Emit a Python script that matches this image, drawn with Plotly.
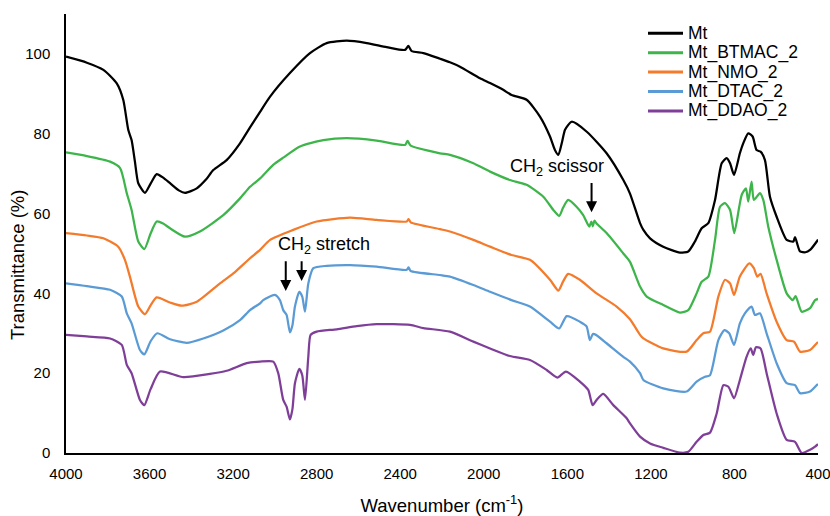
import plotly.graph_objects as go

# ---------------- data ----------------
mt_wn = [4000, 3900, 3821, 3757, 3726, 3702, 3686, 3670, 3654, 3622, 3595, 3566, 3535, 3502, 3460, 3430,
         3374, 3330, 3295, 3231, 3167, 3119, 3071, 3023, 2928, 2832, 2752, 2656, 2560, 2465, 2377, 2361,
         2345, 2289, 2210, 2162, 2114, 2018, 1970, 1907, 1867, 1795, 1731, 1683, 1660, 1643, 1625, 1611,
         1579, 1507, 1412, 1332, 1300, 1252, 1236, 1204, 1141, 1061, 1021, 989, 957, 925, 893, 861, 837,
         821, 802, 774, 758, 734, 713, 694, 675, 654, 630, 598, 550, 518, 510, 486, 460, 438, 406, 400]
mt_t = [99.3, 97.8, 96, 92.6, 88.5, 81, 78.4, 73, 67.6, 65.2, 67.5, 69.9, 69, 67.6, 65.8, 65.2,
        66.3, 68.5, 70.9, 73.4, 77.6, 81.6, 85.5, 89.3, 95.2, 100.2, 102.7, 103.3, 102.7, 101.7, 101, 102,
        100.7, 100.2, 98.8, 97.9, 96.8, 93.9, 92.7, 91, 89.7, 88.5, 84.3, 79.3, 76, 74.7, 78, 81,
        83, 80.5, 75.1, 68.4, 65, 57.6, 55.9, 53.8, 51.7, 50.2, 50.5, 53, 56.3, 57.6, 63.4, 72.6, 73.9,
        72.6, 69.7, 75.1, 77.6, 80.1, 79.3, 75.9, 75.5, 73.4, 64.2, 59.2, 53.4, 53, 54.1, 50.5, 50.3, 50.9, 53, 53.5]

btmac_wn = [4000, 3900, 3789, 3741, 3709, 3686, 3654, 3625, 3595, 3566, 3535, 3502, 3430, 3359, 3247, 3167,
            3119, 3071, 3008, 2960, 2880, 2768, 2656, 2513, 2377, 2365, 2350, 2210, 2162, 2050, 1970, 1875,
            1795, 1715, 1667, 1639, 1620, 1596, 1556, 1524, 1495, 1485, 1478, 1470, 1460, 1412, 1332, 1300,
            1252, 1220, 1141, 1061, 1021, 981, 957, 925, 893, 869, 845, 821, 801, 777, 765, 745, 734, 718,
            707, 678, 662, 638, 598, 550, 521, 507, 478, 438, 414, 400]
btmac_t = [75.3, 74.4, 73, 71.4, 65.1, 60.9, 53, 51.1, 55, 58, 57.5, 56.3, 54.2, 55.5, 59.6, 63.8,
           66.7, 68.8, 72.2, 74, 76.8, 78.4, 78.9, 78.3, 77.2, 78.2, 77, 75.1, 74.7, 72.6, 70.5, 68.4,
           67.2, 64.2, 60.9, 59.4, 61.5, 63.4, 61.7, 59.6, 56.7, 58, 56.8, 58.2, 57.5, 55.1, 50, 47.9,
           41.7, 39.2, 37.1, 35.2, 35.8, 40, 42.9, 44.2, 53.4, 61.7, 62.6, 60.9, 55.1, 61.7, 64.7, 66.3, 63, 68,
           63.4, 65.1, 63.4, 56.7, 48.4, 40, 38.3, 39.3, 35.4, 36.3, 38.3, 38.6]

nmo_wn = [4000, 3900, 3821, 3750, 3718, 3694, 3654, 3622, 3595, 3566, 3502, 3446, 3374, 3263, 3199, 3119,
          3071, 3023, 2912, 2800, 2640, 2513, 2369, 2360, 2350, 2210, 2162, 2050, 1970, 1867, 1779, 1683,
          1643, 1620, 1596, 1540, 1460, 1364, 1300, 1252, 1236, 1141, 1029, 981, 949, 917, 877, 845, 821,
          802, 774, 729, 707, 691, 675, 646, 598, 550, 515, 486, 438, 406, 400]
nmo_t = [55.1, 54.5, 53.8, 51.7, 48.4, 44.2, 36.7, 34.8, 37, 39, 37.7, 36.9, 37.9, 42.5, 45, 48.8,
         50.9, 53.4, 55.9, 58, 59, 58.4, 58, 58.6, 57.8, 56.1, 55.5, 53.4, 51.7, 49.6, 48.4, 43.4,
         40.7, 43, 44.9, 43.4, 40, 36.7, 33.5, 29.6, 28.7, 26.2, 25.4, 28.3, 30, 30.4, 39.2, 43.4, 42.5,
         39.6, 44.2, 47.5, 46.3, 44.2, 44.9, 40, 32.9, 28.3, 27.9, 25.4, 25.8, 27.5, 27.8]

dtac_wn = [4000, 3900, 3789, 3733, 3709, 3686, 3646, 3625, 3595, 3563, 3502, 3422, 3343, 3247, 3167, 3119,
           3071, 3056, 3000, 2976, 2960, 2944, 2928, 2916, 2904, 2883, 2869, 2856, 2840, 2816, 2752, 2640,
           2513, 2369, 2360, 2350, 2210, 2162, 2050, 1970, 1867, 1779, 1683, 1639, 1603, 1540, 1508, 1492,
           1478, 1463, 1412, 1332, 1300, 1252, 1236, 1141, 1029, 981, 941, 917, 877, 848, 825, 802, 774,
           750, 718, 702, 678, 646, 598, 550, 510, 486, 438, 406, 400]
dtac_t = [42.5, 41.8, 40.9, 39.2, 35, 32.5, 25.8, 24.7, 28, 30, 28.5, 27.6, 28.7, 30.7, 33.3, 35.8,
          37.5, 38.3, 39.6, 38.3, 35.8, 34.6, 30.2, 32, 36.7, 40.4, 39.2, 35.4, 42.5, 46.3, 46.9, 47.1,
          46.7, 45.9, 46.5, 45.6, 44.6, 44.2, 42.1, 40.4, 38.3, 36.7, 32.9, 31.2, 34.3, 32.9, 31.7, 28.3,
          29.8, 29.6, 27.5, 24.1, 22.9, 20, 18.3, 16.2, 15.4, 17.9, 19.1, 19.5, 28.3, 30.8, 30, 27.1, 32.5,
          35, 36.7, 34.6, 35, 30, 22.5, 17.5, 17, 15, 15.4, 17, 17.3]

ddao_wn = [4000, 3900, 3789, 3733, 3709, 3686, 3646, 3625, 3595, 3550, 3438, 3311, 3231, 3135, 3071, 3008,
           2984, 2960, 2944, 2928, 2916, 2904, 2883, 2869, 2856, 2840, 2829, 2800, 2704, 2608, 2513, 2353,
           2289, 2162, 2050, 1970, 1875, 1779, 1699, 1648, 1607, 1540, 1500, 1479, 1460, 1428, 1380, 1316,
           1300, 1252, 1204, 1141, 1061, 1021, 981, 949, 917, 885, 853, 829, 802, 774, 742, 722, 710, 697,
           675, 646, 598, 550, 510, 478, 438, 414, 400]
ddao_t = [29.6, 29.2, 28.7, 27.1, 22.1, 20, 13.3, 12, 16, 20.4, 19, 19.8, 20.6, 22.5, 22.9, 22.9,
          20, 13.3, 11.6, 8.4, 11, 17.5, 21.1, 19.5, 13.3, 24.1, 29.6, 30.4, 31, 31.8, 32.3, 32.1,
          31.3, 30.4, 27.9, 26.2, 24.3, 23.3, 20.8, 18.9, 20.4, 17.9, 15.8, 12, 13.3, 14.8, 12, 8.7,
          7.4, 4.1, 2.4, 1.3, 0.1, 0.3, 2.8, 4.5, 5.1, 9.9, 17, 16.6, 13.7, 18.3, 24.1, 26.2, 24.6, 26.5,
          26.2, 20, 9.9, 3.3, 2.8, 0, 0.8, 1.6, 2.2]

series_names = ["Mt", "Mt_BTMAC_2", "Mt_NMO_2", "Mt_DTAC_2", "Mt_DDAO_2"]
series_colors = ["#000000", "#3DB54A", "#F37B2B", "#5B9BD5", "#7F3F98"]
series_x = [mt_wn, btmac_wn, nmo_wn, dtac_wn, ddao_wn]
series_y = [mt_t, btmac_t, nmo_t, dtac_t, ddao_t]

x_ticks = [4000, 3600, 3200, 2800, 2400, 2000, 1600, 1200, 800, 400]
y_ticks = [0, 20, 40, 60, 80, 100]

FONT = "Liberation Sans, Arial, sans-serif"
W, H = 830, 516
ML, MR, MT, MB = 66, 12, 14, 63
PW, PH = W - ML - MR, H - MT - MB


def px_to_paper(px, py):
    return (px - ML) / PW, (H - MB - py) / PH


fig = go.Figure()
for name, col, xs, ys in zip(series_names, series_colors, series_x, series_y):
    fig.add_trace(go.Scatter(x=xs, y=ys, mode="lines", name=name, showlegend=False,
                             line=dict(color=col, width=2.25, shape="spline", smoothing=0.6)))

# legend (compact, Excel-like spacing) built from line samples + text
leg_x0, leg_x1, leg_tx = 648, 683, 686
leg_y0, leg_dy = 33.3, 19.4
for i, (name, col) in enumerate(zip(series_names, series_colors)):
    yy = leg_y0 + i * leg_dy
    xa, ya = px_to_paper(leg_x0, yy)
    xb, _ = px_to_paper(leg_x1, yy)
    fig.add_shape(type="line", xref="paper", yref="paper", x0=xa, x1=xb, y0=ya, y1=ya,
                  line=dict(color=col, width=3))
    xt, _ = px_to_paper(leg_tx, yy)
    fig.add_annotation(xref="paper", yref="paper", x=xt, y=ya, xanchor="left", yanchor="middle",
                       text=name, showarrow=False, font=dict(family=FONT, size=17.5, color="#000"))

# annotations
arrow_common = dict(showarrow=True, arrowhead=2, arrowsize=1.1, arrowwidth=2, arrowcolor="black",
                    axref="x", ayref="y", text="")
fig.add_annotation(x=2948, y=40.6, ax=2948, ay=48.4, **arrow_common)
fig.add_annotation(x=2872, y=43.1, ax=2872, ay=48.4, **arrow_common)
fig.add_annotation(x=1484, y=60.3, ax=1484, ay=68.0, **arrow_common)
fig.add_annotation(x=2765, y=51.9, text="CH<sub>2</sub> stretch", showarrow=False,
                   font=dict(family=FONT, size=18, color="#000"))
fig.add_annotation(x=1651, y=71.6, text="CH<sub>2</sub> scissor", showarrow=False,
                   font=dict(family=FONT, size=18, color="#000"))

# y-axis title (placed like the reference, slightly below centre)
ytx, yty = px_to_paper(17, 265)
fig.add_annotation(xref="paper", yref="paper", x=ytx, y=yty, xanchor="center", yanchor="middle",
                   text="Transmittance (%)", textangle=-90,
                   showarrow=False, font=dict(family=FONT, size=18.5, color="#000"))

fig.update_layout(
    width=W, height=H,
    margin=dict(l=ML, r=MR, t=MT, b=MB),
    paper_bgcolor="white", plot_bgcolor="white",
    font=dict(family=FONT, color="#000"),
    showlegend=False,
)
fig.update_xaxes(range=[4000, 400], tickvals=x_ticks, ticktext=[str(v) for v in x_ticks],
                 showgrid=False, zeroline=False, showline=True, linecolor="black", linewidth=2,
                 ticks="", ticklabelstandoff=6, ticklabeloverflow="allow",
                 tickfont=dict(family=FONT, size=15, color="#000"),
                 automargin=False,
                 title=dict(text="Wavenumber (cm<sup>-1</sup>)", font=dict(family=FONT, size=18.5, color="#000"),
                            standoff=19))
fig.update_yaxes(range=[0, 110], tickvals=y_ticks, ticktext=[str(v) for v in y_ticks],
                 showgrid=False, zeroline=False, showline=True, linecolor="black", linewidth=1.5,
                 ticks="", ticklabelstandoff=11, tickfont=dict(family=FONT, size=15, color="#000"),
                 automargin=False)

fig.write_html("out.html")
